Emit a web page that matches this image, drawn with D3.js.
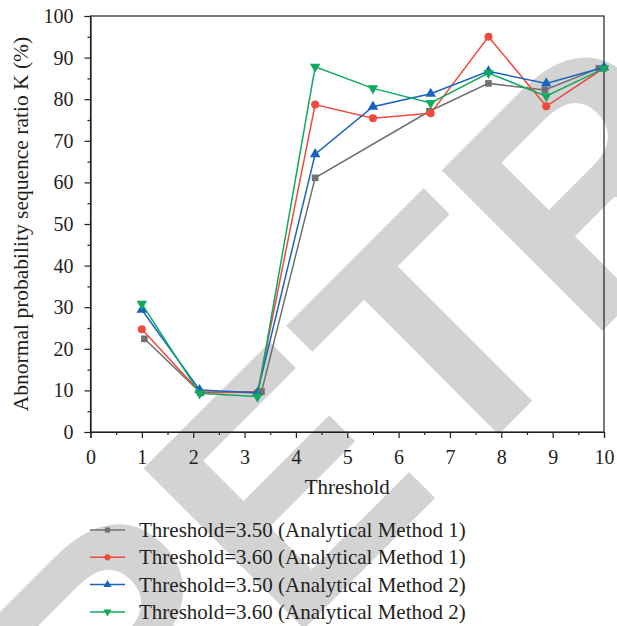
<!DOCTYPE html>
<html>
<head>
<meta charset="utf-8">
<script src="https://cdn.jsdelivr.net/npm/d3@7"></script>
<style>
  body { margin: 0; background: #fff; }
</style>
</head>
<body>
<svg id="chart" width="617" height="626"></svg>
<script>
'use strict';

// data
const xShared = [1, 2.125, 3.25, 4.375, 5.5, 6.625, 7.75, 8.875, 10];
const xGrey = [1.05, 2.15, 3.33, 4.375, 6.6, 7.75, 8.85, 9.9];

const grey350m1 = [22.4, 9.4, 9.7, 61.1, 77.1, 83.8, 82.2, 87.4];
const red360m1 = [24.7, 9.7, 9.4, 78.7, 75.4, 76.6, 95.0, 78.3, 87.5];
const blue350m2 = [29.4, 10.1, 9.4, 66.8, 78.2, 81.3, 86.7, 83.8, 87.7];
const green360m2 = [30.8, 9.3, 8.5, 87.8, 82.6, 79.1, 86.3, 80.7, 87.4];

const legendLabels = [
    'Threshold=3.50 (Analytical Method 1)',
    'Threshold=3.60 (Analytical Method 1)',
    'Threshold=3.50 (Analytical Method 2)',
    'Threshold=3.60 (Analytical Method 2)'
];

const xTicks = [0, 1, 2, 3, 4, 5, 6, 7, 8, 9, 10];
const yTicks = [0, 10, 20, 30, 40, 50, 60, 70, 80, 90, 100];

const series = [
    { xs: xGrey, ys: grey350m1, color: '#707070', symbol: d3.symbolSquare, size: 44, rot: 0 },
    { xs: xShared, ys: red360m1, color: '#f04a3e', symbol: d3.symbolCircle, size: 50, rot: 0 },
    { xs: xShared, ys: blue350m2, color: '#1a64c0', symbol: d3.symbolTriangle, size: 48, rot: 0 },
    { xs: xShared, ys: green360m2, color: '#0faa5e', symbol: d3.symbolTriangle, size: 48, rot: 180 }
];

const SERIF = '"Liberation Serif", "DejaVu Serif", serif';
const INK = '#231f20';

const svg = d3.select('#chart');

// watermark behind everything
svg.append('text')
    .attr('transform', 'translate(120,813) rotate(-45)')
    .style('font-family', '"Liberation Sans", Arial, sans-serif')
    .style('font-weight', 'bold')
    .style('font-size', '330px')
    .style('fill', '#d3d3d3')
    .text('RETRACTED');

const plotLeft = 90.5, plotRight = 604, plotTop = 16, plotBottom = 432;

const x = d3.scaleLinear().domain([0, 10]).range([plotLeft, plotRight]);
const y = d3.scaleLinear().domain([0, 100]).range([plotBottom, plotTop]);

// frame
svg.append('rect')
    .attr('x', plotLeft).attr('y', plotTop)
    .attr('width', plotRight - plotLeft).attr('height', plotBottom - plotTop)
    .attr('fill', 'none').attr('stroke', INK).attr('stroke-width', 1.2);

// x axis
const xAxis = svg.append('g')
    .attr('transform', `translate(0,${plotBottom})`)
    .call(d3.axisBottom(x).tickValues(xTicks).tickSize(6).tickPadding(12).tickFormat(d3.format('d')));
svg.append('g')
    .attr('transform', `translate(0,${plotBottom})`)
    .call(d3.axisBottom(x).tickValues(d3.range(0.5, 10, 1)).tickSize(3).tickFormat(''))
    .call(g => g.select('.domain').remove());

// y axis
const yAxis = svg.append('g')
    .attr('transform', `translate(${plotLeft},0)`)
    .call(d3.axisLeft(y).tickValues(yTicks).tickSize(6).tickPadding(11).tickFormat(d3.format('d')));
svg.append('g')
    .attr('transform', `translate(${plotLeft},0)`)
    .call(d3.axisLeft(y).tickValues(d3.range(5, 100, 10)).tickSize(3).tickFormat(''))
    .call(g => g.select('.domain').remove());

svg.selectAll('.domain, .tick line').attr('stroke', INK).attr('stroke-width', 1.2);
svg.selectAll('.tick text')
    .style('font-family', SERIF)
    .style('font-size', '20px')
    .style('fill', INK);

// axis titles
svg.append('text')
    .attr('x', (plotLeft + plotRight) / 2).attr('y', 494)
    .attr('text-anchor', 'middle')
    .style('font-family', SERIF)
    .style('font-size', '21px')
    .style('fill', INK)
    .text('Threshold');

svg.append('text')
    .attr('transform', `translate(28,${(plotTop + plotBottom) / 2}) rotate(-90)`)
    .attr('text-anchor', 'middle')
    .style('font-family', SERIF)
    .style('font-size', '21.5px')
    .style('fill', INK)
    .text('Abnormal probability sequence ratio K (%)');

// lines and markers
const line = d3.line().x(d => x(d[0])).y(d => y(d[1]));

series.forEach(s => {
    const pts = s.xs.map((v, i) => [v, s.ys[i]]);
    svg.append('path')
        .datum(pts)
        .attr('d', line)
        .attr('fill', 'none')
        .attr('stroke', s.color)
        .attr('stroke-width', 1.5);
    svg.append('g').selectAll('path')
        .data(pts)
        .enter()
        .append('path')
        .attr('d', d3.symbol().type(s.symbol).size(s.size))
        .attr('transform', d => `translate(${x(d[0])},${y(d[1])}) rotate(${s.rot})`)
        .attr('fill', s.color);
});

// legend
const legend = svg.append('g');
series.forEach((s, i) => {
    const ly = 530 + i * 27.3;
    legend.append('line')
        .attr('x1', 90).attr('x2', 125)
        .attr('y1', ly).attr('y2', ly)
        .attr('stroke', s.color).attr('stroke-width', 1.5);
    legend.append('path')
        .attr('d', d3.symbol().type(s.symbol).size(s.size * 0.6))
        .attr('transform', `translate(107.5,${ly}) rotate(${s.rot})`)
        .attr('fill', s.color);
    legend.append('text')
        .attr('x', 139).attr('y', ly)
        .attr('dy', '0.33em')
        .style('font-family', SERIF)
        .style('font-size', '21px')
        .style('fill', INK)
        .text(legendLabels[i]);
});
</script>
</body>
</html>
